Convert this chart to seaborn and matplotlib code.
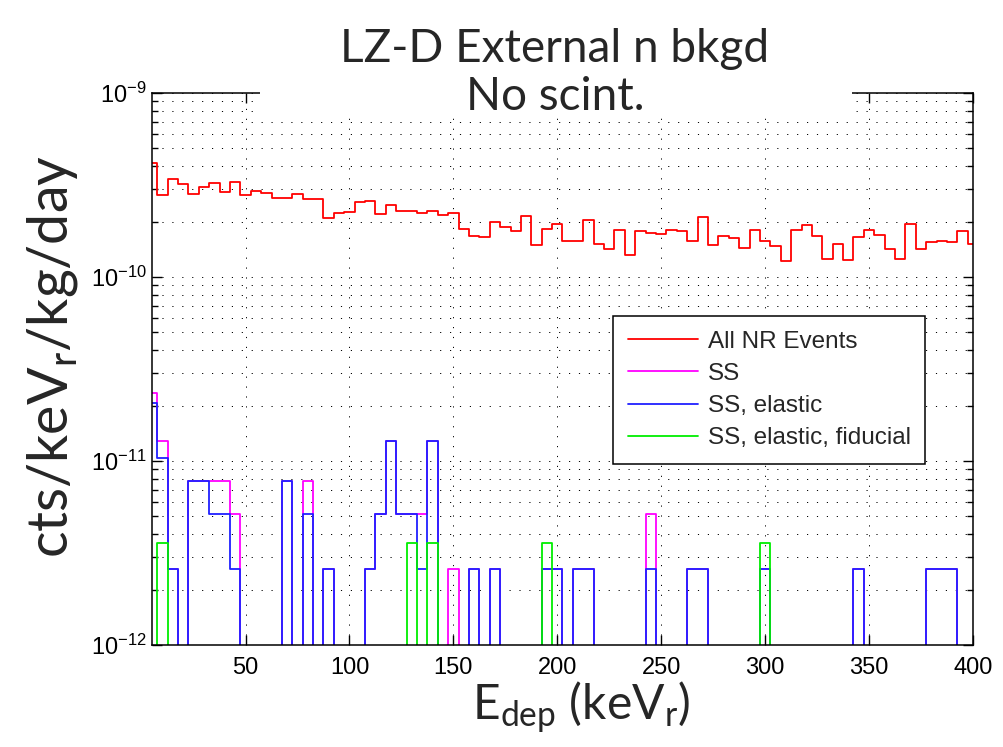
import numpy as np
import pandas as pd
import matplotlib
matplotlib.use("Agg")
import matplotlib.pyplot as plt
import seaborn as sns
from matplotlib.ticker import LogLocator, NullFormatter, FixedLocator
from matplotlib.patches import Rectangle

# ---------------- data ----------------
bin_width = 5
bin_centers = np.arange(5, 401, bin_width)  # keV_r bin centres (80 bins)

# All NR events, units of 1e-10 cts/keVr/kg/day
all_nr = [4.18, 2.79, 3.40, 3.21, 2.84, 3.07, 3.24, 2.89, 3.30, 2.79,
          2.92, 2.85, 2.68, 2.70, 2.81, 2.64, 2.64, 2.08, 2.23, 2.25,
          2.56, 2.58, 2.20, 2.45, 2.29, 2.29, 2.23, 2.28, 2.16, 2.24,
          1.83, 1.68, 1.64, 2.00, 1.88, 1.78, 2.14, 1.50, 1.83, 1.95,
          1.57, 1.57, 2.05, 1.52, 1.42, 1.81, 1.31, 1.78, 1.73, 1.71,
          1.80, 1.78, 1.57, 2.11, 1.49, 1.68, 1.62, 1.44, 1.80, 1.57,
          1.47, 1.22, 1.80, 1.91, 1.67, 1.26, 1.52, 1.24, 1.65, 1.79,
          1.70, 1.42, 1.26, 1.93, 1.42, 1.55, 1.57, 1.55, 1.78, 1.52]

# SS (units of 1e-12), non-empty bins only
ss_bins = [5, 10, 15, 25, 30, 35, 40, 45, 70, 80, 90, 110, 115, 120, 125, 130,
           135, 140, 150, 160, 170, 195, 200, 210, 215, 245, 265, 270, 300, 345,
           380, 385, 390]
ss_vals = [23.3, 12.9, 2.59, 7.76, 7.76, 7.76, 7.76, 5.18, 7.76, 7.76, 2.59,
           2.59, 5.18, 12.9, 5.18, 5.18, 5.18, 12.9, 2.59, 2.59, 2.59, 2.59,
           2.59, 2.59, 2.59, 5.18, 2.59, 2.59, 2.59, 2.59, 2.59, 2.59, 2.59]

# SS, elastic (units of 1e-12)
el_bins = [5, 10, 15, 25, 30, 35, 40, 45, 70, 80, 90, 110, 115, 120, 125, 130,
           135, 140, 160, 170, 195, 200, 210, 215, 245, 265, 270, 300, 345,
           380, 385, 390]
el_vals = [20.7, 10.4, 2.59, 7.76, 7.76, 5.18, 5.18, 2.59, 7.76, 5.18, 2.59,
           2.59, 5.18, 12.9, 5.18, 5.18, 2.59, 12.9, 2.59, 2.59, 2.59, 2.59,
           2.59, 2.59, 2.59, 2.59, 2.59, 2.59, 2.59, 2.59, 2.59, 2.59]

# SS, elastic, fiducial (units of 1e-12)
fid_bins = [10, 130, 140, 195, 300]
fid_vals = [3.58, 3.58, 3.58, 3.58, 3.58]

labels = ["All NR Events", "SS", "SS, elastic", "SS, elastic, fiducial"]
colors = ["#ff0000", "#ff00ff", "#2020ff", "#00ee00"]
x_ticks = [50, 100, 150, 200, 250, 300, 350, 400]


def full(bins, vals, scale):
    out = np.zeros(len(bin_centers))
    for b, v in zip(bins, vals):
        out[list(bin_centers).index(b)] = v * scale
    return out


series = [np.array(all_nr) * 1e-10,
          full(ss_bins, ss_vals, 1e-12),
          full(el_bins, el_vals, 1e-12),
          full(fid_bins, fid_vals, 1e-12)]

frames = []
for lab, s in zip(labels, series):
    frames.append(pd.DataFrame({"E": bin_centers,
                                "rate": np.where(s > 0, s, 1e-15),
                                "series": lab}))
df = pd.concat(frames, ignore_index=True)

# ---------------- style ----------------
sns.set_theme(style="ticks")
plt.rcParams["font.family"] = ["Liberation Sans", "DejaVu Sans"]
plt.rcParams["axes.axisbelow"] = True

fig = plt.figure(figsize=(10.04, 7.47), dpi=100)
ax = fig.add_axes([152 / 1004, 1 - 645 / 747, (973 - 152) / 1004, (645 - 93) / 747])
ax.set_yscale("log")

for lab, col in zip(labels, colors):
    sub = df[df["series"] == lab]
    sns.lineplot(data=sub, x="E", y="rate", ax=ax, color=col, lw=1.3,
                 drawstyle="steps-mid", estimator=None, sort=False, label=lab)

ax.set_xlim(5, 400)
ax.set_ylim(1e-12, 1e-9)
ax.xaxis.set_major_locator(FixedLocator(x_ticks))
ax.yaxis.set_major_locator(LogLocator(base=10))
ax.yaxis.set_minor_locator(LogLocator(base=10, subs=np.arange(2, 10)))
ax.yaxis.set_minor_formatter(NullFormatter())
ax.set_xlabel("")
ax.set_ylabel("")
ax.xaxis.label.set_visible(False)
ax.yaxis.label.set_visible(False)

grid_kw = dict(color="black", lw=0.7, linestyle=(0, (1.2, 9)))
ax.grid(which="major", axis="both", **grid_kw)
ax.grid(which="minor", axis="y", **grid_kw)

ax.tick_params(which="both", direction="in", top=True, right=True,
               width=1.0, color="black", labelsize=17, labelcolor="black")
ax.tick_params(which="major", length=7)
ax.tick_params(which="minor", length=4)
ax.tick_params(axis="x", pad=9)
ax.tick_params(axis="y", pad=4)
for sp in ax.spines.values():
    sp.set_visible(True)
    sp.set_color("black")
    sp.set_linewidth(1.1)

# white mask behind the title (covers the top frame)
ax.add_patch(Rectangle(((260 - 152) / 821, 0.955), (852 - 260) / 821, 0.1,
                       transform=ax.transAxes, facecolor="white",
                       edgecolor="none", zorder=2.6, clip_on=False))

leg = ax.legend(loc="upper left", bbox_to_anchor=((613 - 152) / 821, (645 - 316) / 552),
                borderaxespad=0, fontsize=17.5, frameon=True, fancybox=False,
                framealpha=1, edgecolor="black", handlelength=2.9,
                handletextpad=0.4, borderpad=0.6, labelspacing=0.42)
leg.get_frame().set_linewidth(1.1)

# titles and axis labels
fig.text(555 / 1004, 1 - 62 / 747, "LZ-D External n bkgd", ha="center",
         va="baseline", fontsize=33, family="Lato", zorder=5)
fig.text(555 / 1004, 1 - 110 / 747, "No scint.", ha="center",
         va="baseline", fontsize=33, family="Lato", zorder=5)
fig.text(53 / 1004, 1 - 357 / 747, r"cts/keV$_\mathdefault{r}$/kg/day",
         rotation=90, ha="center", va="center", fontsize=40, family="Lato")
fig.text(581 / 1004, 1 - 708 / 747, r"E$_\mathdefault{dep}$ (keV$_\mathdefault{r}$)",
         ha="center", va="center", fontsize=34.5, family="Lato")

fig.savefig("out.png", dpi=100)
